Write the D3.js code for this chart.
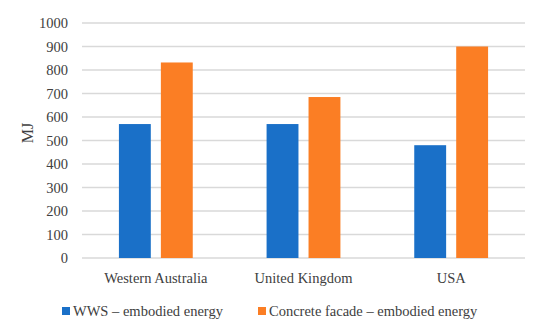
<!DOCTYPE html>
<html>
<head>
<meta charset="utf-8">
<script src="https://cdn.jsdelivr.net/npm/d3@7"></script>
<style>
    body { margin: 0; background: #fff; }
    svg text { font-family: "Liberation Serif", "Times New Roman", "DejaVu Serif", serif; fill: #404040; }
    .axis text { font-size: 14.5px; }
    .grid line { stroke: #d9d9d9; stroke-width: 1.3; }
</style>
</head>
<body>
<div id="chart"></div>
<script>
// values
const categories = ["Western Australia", "United Kingdom", "USA"];
const seriesNames = ["WWS \u2013 embodied energy", "Concrete facade \u2013 embodied energy"];
const wws = [570, 570, 480];
const concrete = [832, 685, 900];
const yTicks = [0, 100, 200, 300, 400, 500, 600, 700, 800, 900, 1000];
const colors = ["#1a70c8", "#fb7e24"];

const width = 550,
    height = 326,
    margin = {top: 23, right: 25, bottom: 68, left: 82};

const svg = d3.select("#chart")
    .append("svg")
    .attr("width", width)
    .attr("height", height);

const x0 = d3.scaleBand()
    .domain(categories)
    .range([margin.left, width - margin.right])
    .paddingInner(0)
    .paddingOuter(0);

// two bars per group, ~32px wide with a small gap
const x1 = d3.scaleBand()
    .domain([0, 1])
    .range([x0.bandwidth() * 0.25, x0.bandwidth() * 0.75])
    .paddingInner(0.24)
    .paddingOuter(0);

const yScale = d3.scaleLinear()
    .domain([0, 1000])
    .range([height - margin.bottom, margin.top]);

// gridlines
svg.append("g")
    .attr("class", "grid")
    .selectAll("line")
    .data(yTicks)
    .join("line")
    .attr("x1", margin.left)
    .attr("x2", width - margin.right)
    .attr("y1", (d) => yScale(d))
    .attr("y2", (d) => yScale(d));

// y axis labels
svg.append("g")
    .attr("class", "axis")
    .attr("transform", `translate(${margin.left - 14},0)`)
    .call(d3.axisLeft(yScale).tickValues(yTicks).tickFormat(d3.format("d")).tickSize(0).tickPadding(0))
    .call((g) => g.attr("font-family", null).attr("font-size", null))
    .call((g) => g.select(".domain").remove());

// x axis labels
svg.append("g")
    .attr("class", "axis")
    .attr("transform", `translate(0,${height - margin.bottom})`)
    .call(d3.axisBottom(x0).tickSize(0).tickPadding(15))
    .call((g) => g.attr("font-family", null).attr("font-size", null))
    .call((g) => g.select(".domain").remove());

// bars
const rows = categories.map((c, i) => ({cat: c, values: [wws[i], concrete[i]]}));
svg.append("g")
    .selectAll("g")
    .data(rows)
    .join("g")
    .attr("transform", (d) => `translate(${x0(d.cat)},0)`)
    .selectAll("rect")
    .data((d) => d.values.map((v, k) => ({k: k, v: v})))
    .join("rect")
    .attr("x", (d) => x1(d.k))
    .attr("width", x1.bandwidth())
    .attr("y", (d) => yScale(d.v))
    .attr("height", (d) => yScale(0) - yScale(d.v))
    .attr("fill", (d) => colors[d.k]);

// y axis title
svg.append("text")
    .attr("transform", `translate(33,133) rotate(-90)`)
    .attr("text-anchor", "middle")
    .style("font-size", "16px")
    .text("MJ");

// legend
const legendX = [62, 258];
const legend = svg.append("g")
    .selectAll("g")
    .data(seriesNames)
    .join("g")
    .attr("transform", (d, i) => `translate(${legendX[i]},311)`);

legend.append("rect")
    .attr("x", 0)
    .attr("y", -4)
    .attr("width", 8)
    .attr("height", 8)
    .attr("fill", (d, i) => colors[i]);

legend.append("text")
    .attr("x", 11)
    .attr("y", 5)
    .style("font-size", "14.5px")
    .text((d) => d);
</script>
</body>
</html>
